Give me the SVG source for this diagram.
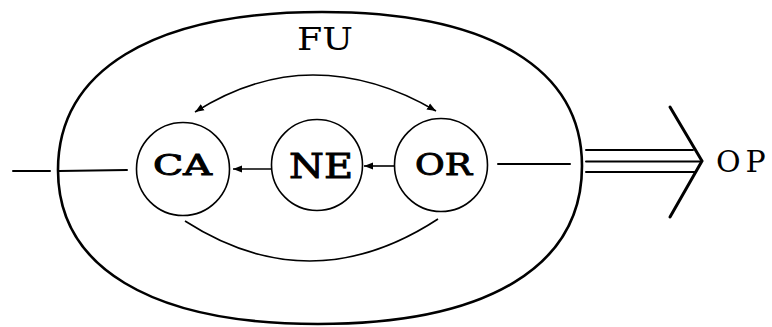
<svg xmlns="http://www.w3.org/2000/svg" width="772" height="327" viewBox="0 0 772 327">
<style>
.ln{fill:none;stroke:#000;stroke-width:2;stroke-linecap:round}
.thin{fill:none;stroke:#000;stroke-width:1.6}
.nd{fill:#fff;stroke:#000;stroke-width:1.6}
.lbl{font-family:"DejaVu Serif","Liberation Serif",serif;fill:#000;stroke:#000;stroke-width:0.9}
.ser{font-family:"DejaVu Serif","Liberation Serif",serif;fill:#000}
</style>
<defs>
<marker id="ah" markerWidth="10" markerHeight="8" refX="9" refY="4" orient="auto" markerUnits="userSpaceOnUse">
<path d="M0,0.5 L9,4 L0,7.5 Z" fill="#000"/>
</marker>
</defs>
<rect width="772" height="327" fill="#fff"/>
<g id="FU">
<path d="M58,170 C58,72 150,12 322,12 C492,12 582,70 582,166 C582,265 490,324 318,324 C149,324 58,266 58,170 Z" fill="none" stroke="#000" stroke-width="2.6"/>
<text class="ser" x="297" y="50" font-size="31" textLength="56" lengthAdjust="spacingAndGlyphs">FU</text>
</g>
<g id="connectors">
<line class="ln" x1="13" y1="171" x2="50" y2="171"/>
<line class="ln" x1="59" y1="171" x2="127" y2="170"/>
<line class="thin" x1="272" y1="169" x2="233" y2="169" marker-end="url(#ah)"/>
<line class="thin" x1="396" y1="166" x2="364" y2="166" marker-end="url(#ah)"/>
<line class="ln" x1="498" y1="164" x2="570" y2="164"/>
<path class="thin" d="M313,75 Q254,75 195,112" marker-end="url(#ah)"/>
<path class="thin" d="M313,75 Q375,75 436,111" marker-end="url(#ah)"/>
<path class="thin" d="M185,221 Q311,302 438,219"/>
<line class="ln" x1="586" y1="150" x2="693" y2="150" stroke-width="2.6"/>
<line class="ln" x1="586" y1="161.5" x2="700" y2="161.5" stroke-width="2.6"/>
<line class="ln" x1="586" y1="172" x2="695" y2="172" stroke-width="2.6"/>
<polyline points="670,107 702,161 670,217" fill="none" stroke="#000" stroke-width="3" stroke-linecap="round" stroke-linejoin="miter"/>
</g>
<g id="CA">
<circle class="nd" cx="183" cy="169" r="46.5"/>
<text class="lbl" x="153" y="175" font-size="27" textLength="59" lengthAdjust="spacingAndGlyphs">CA</text>
</g>
<g id="NE">
<circle class="nd" cx="317" cy="165" r="45.5"/>
<text class="lbl" x="289" y="178" font-size="33" textLength="64" lengthAdjust="spacingAndGlyphs">NE</text>
</g>
<g id="OR">
<circle class="nd" cx="441" cy="165" r="46.5"/>
<text class="lbl" x="415" y="175" font-size="29" textLength="57" lengthAdjust="spacingAndGlyphs">OR</text>
</g>
<g id="OP">
<text class="ser" x="716" y="172" font-size="30" letter-spacing="5">OP</text>
</g>
</svg>
